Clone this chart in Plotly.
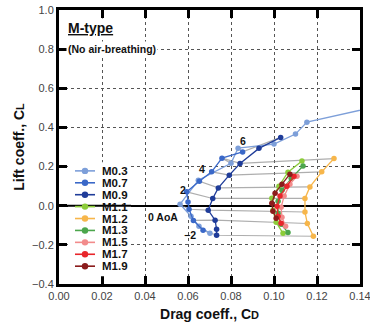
import plotly.graph_objects as go

# ---------------- data ----------------
series_names = ["M0.3", "M0.7", "M0.9", "M1.1", "M1.2", "M1.3", "M1.5", "M1.7", "M1.9"]
series_colors = ["#7d9fd9", "#3a68c8", "#1f3c99", "#8ccc3a", "#f7b64a",
                 "#4ca64c", "#f28b8b", "#e8262b", "#8b1c1c"]

m03_cd = [0.0702, 0.0651, 0.0614, 0.0563, 0.0648, 0.0800, 0.0833, 0.1000, 0.1100, 0.1153, 0.1600]
m03_cl = [-0.141, -0.105, -0.054, 0.008, 0.130, 0.217, 0.294, 0.315, 0.366, 0.427, 0.537]
m03_aoa = [-2, -1.5, -1, 0, 2, 4, 6, 7, 8, 10, 12]

m07_cd = [0.0670, 0.0625, 0.0605, 0.0600, 0.0594, 0.0653, 0.0710, 0.0758, 0.0854]
m07_cl = [-0.125, -0.075, -0.018, 0.019, 0.071, 0.125, 0.173, 0.243, 0.275]
m07_aoa = [-2, -1, 0, 0.5, 1, 2, 3, 4, 6]

m09_cd = [0.0733, 0.0733, 0.0726, 0.0694, 0.0715, 0.0741, 0.0792, 0.0842, 0.0930, 0.1031]
m09_cl = [-0.151, -0.120, -0.074, -0.023, 0.037, 0.091, 0.156, 0.216, 0.293, 0.349]
m09_aoa = [-2, -1.5, -1, 0, 1, 2, 3, 4, 5, 6]

m11_cd = [0.1042, 0.1010, 0.0995, 0.0990, 0.1023, 0.1065, 0.1130]
m11_cl = [-0.141, -0.085, -0.023, 0.038, 0.100, 0.171, 0.228]
m11_aoa = [-2, -1, 0, 1, 2, 3, 4]

m12_cd = [0.1183, 0.1155, 0.1144, 0.1144, 0.1167, 0.1222, 0.1279]
m12_cl = [-0.156, -0.091, -0.032, 0.037, 0.096, 0.173, 0.241]
m12_aoa = [-2, -1, 0, 1, 2, 3, 4]

m13_cd = [0.1065, 0.1033, 0.1019, 0.1019, 0.1037, 0.1080, 0.1135]
m13_cl = [-0.137, -0.095, -0.038, 0.023, 0.079, 0.140, 0.203]
m13_aoa = [-2, -1, 0, 1, 2, 3, 4]

m15_cd = [0.1054, 0.1037, 0.1033, 0.1047, 0.1074, 0.1107]
m15_cl = [-0.105, -0.059, -0.008, 0.049, 0.110, 0.151]
m15_aoa = [-2, -1, 0, 1, 2, 3]

m17_cd = [0.1033, 0.1019, 0.1014, 0.1028, 0.1060, 0.1093]
m17_cl = [-0.090, -0.054, -0.003, 0.049, 0.100, 0.151]
m17_aoa = [-2, -1, 0, 1, 2, 3]

m19_cd = [0.1010, 0.0995, 0.0990, 0.1005, 0.1037, 0.1074]
m19_cl = [-0.064, -0.028, 0.013, 0.064, 0.110, 0.161]
m19_aoa = [-2, -1, 0, 1, 2, 3]

series_cd = [m03_cd, m07_cd, m09_cd, m11_cd, m12_cd, m13_cd, m15_cd, m17_cd, m19_cd]
series_cl = [m03_cl, m07_cl, m09_cl, m11_cl, m12_cl, m13_cl, m15_cl, m17_cl, m19_cl]
series_aoa = [m03_aoa, m07_aoa, m09_aoa, m11_aoa, m12_aoa, m13_aoa, m15_aoa, m17_aoa, m19_aoa]

# constant-AoA connecting lines (grey), through these series in order
iso_aoa = [-2, -1, 0, 1, 2, 3, 4, 6]
iso_series = ["M0.3", "M0.7", "M0.9", "M1.2"]

x_ticks = [0.00, 0.02, 0.04, 0.06, 0.08, 0.10, 0.12, 0.14]
y_ticks = [-0.4, -0.2, 0.0, 0.2, 0.4, 0.6, 0.8, 1.0]

fig = go.Figure()

# grey iso-AoA lines
for a in iso_aoa:
    xs, ys = [], []
    for name in iso_series:
        i = series_names.index(name)
        if a in series_aoa[i]:
            j = series_aoa[i].index(a)
            xs.append(series_cd[i][j])
            ys.append(series_cl[i][j])
    fig.add_trace(go.Scatter(x=xs, y=ys, mode="lines",
                             line=dict(color="rgba(120,120,120,0.6)", width=1.2),
                             showlegend=False, hoverinfo="skip"))

for name, col, xs, ys in zip(series_names, series_colors, series_cd, series_cl):
    fig.add_trace(go.Scatter(x=xs, y=ys, mode="lines+markers", name=name,
                             line=dict(color=col, width=1.3),
                             marker=dict(color=col, size=5.5),
                             showlegend=False))

# ---------------- manual compact legend ----------------
L, R, T, B = 59, 360, 10, 283.7
def px(xp):
    return (xp - L) / (R - L)
def py(yp):
    return (B - yp) / (B - T)

shapes = []
annotations = []
# white legend box (hides grid), zero line redrawn over it
shapes.append(dict(type="rect", xref="paper", yref="paper", layer="above",
                   x0=px(68), x1=px(131), y0=py(276), y1=py(162),
                   fillcolor="white", line=dict(width=0)))
shapes.append(dict(type="line", xref="paper", yref="paper", layer="above",
                   x0=px(60), x1=px(131), y0=py(205.5), y1=py(205.5),
                   line=dict(color="black", width=2)))
for k, (name, col) in enumerate(zip(series_names, series_colors)):
    yp = 170.7 + k * 11.9
    shapes.append(dict(type="line", xref="paper", yref="paper", layer="above",
                       x0=px(75), x1=px(95), y0=py(yp), y1=py(yp),
                       line=dict(color=col, width=1.6)))
    shapes.append(dict(type="circle", xref="paper", yref="paper", layer="above",
                       xsizemode="pixel", ysizemode="pixel",
                       xanchor=px(85), yanchor=py(yp),
                       x0=-3.2, x1=3.2, y0=-3.2, y1=3.2,
                       fillcolor=col, line=dict(color=col, width=0)))
    annotations.append(dict(text="<b>%s</b>" % name, xref="paper", yref="paper",
                            x=px(100), y=py(yp), xanchor="left", yanchor="middle",
                            showarrow=False,
                            font=dict(family="Liberation Sans", size=11.5, color="#111")))

def note(text, xp, yp, size=10.5, anchor="center", bg=None):
    d = dict(text=text, xref="paper", yref="paper",
             x=px(xp), y=py(yp), xanchor=anchor, yanchor="middle",
             showarrow=False,
             font=dict(family="Liberation Sans", size=size, color="#111"))
    if bg:
        d["bgcolor"] = bg
    annotations.append(d)

note("<b><u>M-type</u></b>", 66, 28, size=14, anchor="left", bg="white")
note("<b>(No air-breathing)</b>", 66, 49, size=10.5, anchor="left", bg="white")
note("<b>0 AoA</b>", 163, 216.5)
note("<b>2</b>", 183, 190)
note("<b>4</b>", 202, 169)
note("<b>6</b>", 243, 141)
note("<b>−2</b>", 190, 235)

tick_font = dict(family="Liberation Sans", size=11, color="#444")
axis_common = dict(showline=True, linecolor="black", linewidth=3, mirror="ticks",
                   ticks="inside", ticklen=8, tickwidth=2.5, tickcolor="black",
                   showgrid=True, gridcolor="#555", griddash="dot", gridwidth=1,
                   tickfont=tick_font, automargin=False, ticklabeloverflow="allow")

fig.update_layout(
    width=370, height=326,
    margin=dict(l=L, r=370 - R, t=T, b=326 - B),
    plot_bgcolor="white", paper_bgcolor="white",
    shapes=shapes, annotations=annotations,
    xaxis=dict(range=[0, 0.14], tickvals=x_ticks,
               ticktext=["%.2f" % v for v in x_ticks], zeroline=False,
               title=dict(text="<b>Drag coeff., C<span style='font-size:11px'>D</span></b>",
                          font=dict(family="Liberation Sans", size=14, color="#111"),
                          standoff=8),
               **axis_common),
    yaxis=dict(range=[-0.4, 1.0], tickvals=y_ticks,
               ticktext=[("%.1f" % v).replace("-", "−") for v in y_ticks],
               zeroline=True, zerolinecolor="black", zerolinewidth=2,
               title=dict(text="<b>Lift coeff., C<span style='font-size:11px'>L</span></b>",
                          font=dict(family="Liberation Sans", size=14, color="#111"),
                          standoff=5),
               **axis_common),
)

fig.write_html("out.html", config={"displayModeBar": False},
               post_script="document.body.style.margin='0';document.body.style.overflow='hidden';")
